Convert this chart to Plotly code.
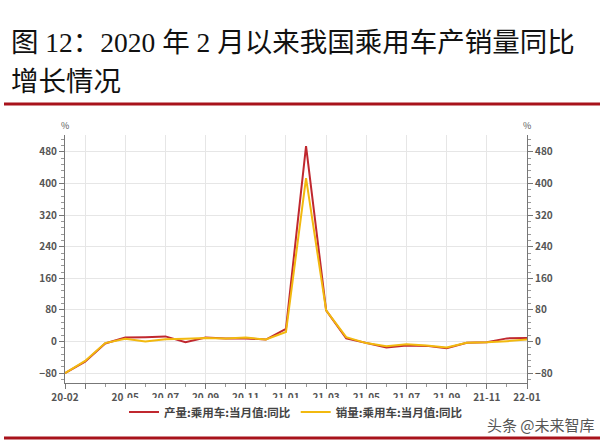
import plotly.graph_objects as go

months = ["20-02","20-03","20-04","20-05","20-06","20-07","20-08","20-09","20-10","20-11","20-12",
          "21-01","21-02","21-03","21-04","21-05","21-06","21-07","21-08","21-09","21-10","21-11","21-12","22-01"]
production = [-80, -51, -5, 10, 11, 13, -2, 10, 8, 8, 5, 32, 495, 79, 8, -4, -15, -10, -11, -17, -3, -2, 8, 9]
sales      = [-80, -49, -4, 7, 0, 6, 7, 9, 8, 10, 5, 24, 414, 79, 11, -4, -12, -7, -10, -15, -3, -2, 1, 5]

tick_idx = [0, 1, 3, 5, 7, 9, 11, 13, 15, 17, 19, 21, 23]
tick_text = [months[i] if i != 1 else "" for i in tick_idx]
y_ticks = [-80, 0, 80, 160, 240, 320, 400, 480]

x_idx = list(range(len(months)))
YR = [-105, 523]

fig = go.Figure()
fig.add_trace(go.Scatter(x=x_idx, y=production, mode="lines", name="产量:乘用车:当月值:同比",
                         line=dict(color="#C0282F", width=2), hoverinfo="skip"))
fig.add_trace(go.Scatter(x=x_idx, y=sales, mode="lines", name="销量:乘用车:当月值:同比",
                         line=dict(color="#F2B90F", width=2), yaxis="y2", hoverinfo="skip"))

tickfont = dict(family="Noto Sans CJK SC", size=10, color="#555555", weight="bold")

fig.update_layout(
    width=606, height=444,
    margin=dict(l=65, r=79, t=135, b=61),
    paper_bgcolor="white", plot_bgcolor="white",
    showlegend=True,
    legend=dict(orientation="h", x=0.5, xanchor="center", y=-0.117, yanchor="middle",
                font=dict(family="Noto Sans CJK SC", size=11.5, color="#444444", weight="bold"),
                itemwidth=30, tracegroupgap=0),
    xaxis=dict(range=[0, 23], tickmode="array", tickvals=tick_idx, ticktext=tick_text,
               showgrid=True, gridcolor="#e6e6e6", gridwidth=1,
               showline=True, linecolor="#777777", linewidth=1,
               ticks="outside", ticklen=5, tickcolor="#777777", tickfont=tickfont,
               minor=dict(tickmode="linear", tick0=0, dtick=1, ticks="outside", ticklen=3,
                          tickcolor="#999999", showgrid=False),
               zeroline=False, fixedrange=True, automargin=False),
    yaxis=dict(range=YR, tickmode="array", tickvals=y_ticks,
               showgrid=True, gridcolor="#e6e6e6", gridwidth=1,
               showline=True, linecolor="#777777", linewidth=1,
               ticks="outside", ticklen=5, tickcolor="#777777", tickfont=tickfont,
               minor=dict(tickmode="linear", tick0=0, dtick=16, ticks="outside", ticklen=3,
                          tickcolor="#999999", showgrid=False),
               zeroline=False, automargin=False, fixedrange=True),
    yaxis2=dict(range=YR, overlaying="y", side="right", tickmode="array", tickvals=y_ticks,
                showgrid=False, showline=True, linecolor="#777777", linewidth=1,
                ticks="outside", ticklen=5, tickcolor="#777777", tickfont=tickfont,
                minor=dict(tickmode="linear", tick0=0, dtick=16, ticks="outside", ticklen=3,
                           tickcolor="#999999"),
                zeroline=False, automargin=False, fixedrange=True),
)

title_font = dict(family="Liberation Serif, Noto Sans CJK SC", size=27.5, color="#111111")
fig.add_annotation(text="图 12：2020 年 2 月以来我国乘用车产销量同比", xref="paper", yref="paper",
                   x=(9 - 65) / 462, y=(383 - 42) / 248, xanchor="left", yanchor="middle",
                   showarrow=False, font=title_font)
fig.add_annotation(text="增长情况", xref="paper", yref="paper",
                   x=(9 - 65) / 462, y=(383 - 81) / 248, xanchor="left", yanchor="middle",
                   showarrow=False, font=title_font)
pct_font = dict(family="Noto Sans CJK SC", size=9, color="#555555")
fig.add_annotation(text="%", xref="paper", yref="paper", x=0, y=(383 - 125) / 248,
                   xanchor="center", yanchor="middle", showarrow=False, font=pct_font)
fig.add_annotation(text="%", xref="paper", yref="paper", x=1, y=(383 - 125) / 248,
                   xanchor="center", yanchor="middle", showarrow=False, font=pct_font)
fig.add_annotation(text="头条 @未来智库", xref="paper", yref="paper", x=(597 - 65) / 462,
                   y=(383 - 424) / 248, xanchor="right", yanchor="middle", showarrow=False,
                   font=dict(family="Noto Sans CJK SC", size=15, color="#555555"))

# red rules
fig.add_shape(type="line", xref="paper", yref="paper", x0=(4 - 65) / 462, x1=(600 - 65) / 462,
              y0=(383 - 104) / 248, y1=(383 - 104) / 248, line=dict(color="#A8121B", width=3))
fig.add_shape(type="line", xref="paper", yref="paper", x0=(4 - 65) / 462, x1=(600 - 65) / 462,
              y0=(383 - 438) / 248, y1=(383 - 438) / 248, line=dict(color="#A8121B", width=3))

fig.write_html("out.html", config={"displayModeBar": False, "staticPlot": True},
               post_script="document.body.style.margin='0px';document.body.style.padding='0px';")
